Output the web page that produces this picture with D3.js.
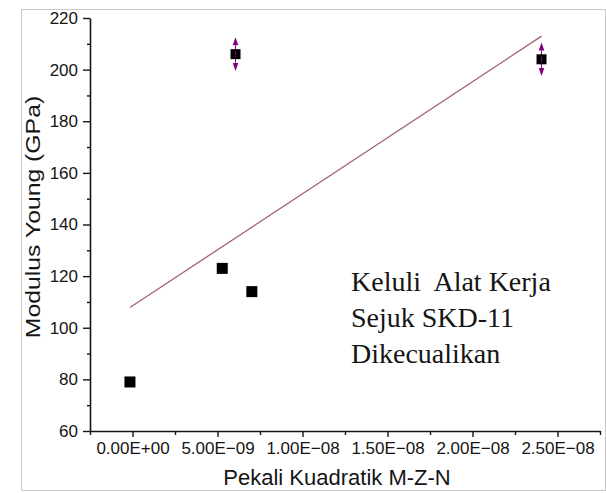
<!DOCTYPE html>
<html>
<head>
<meta charset="utf-8">
<script src="https://cdn.jsdelivr.net/npm/d3@7"></script>
<style>
  body { margin: 0; background: #fff; }
  svg { display: block; }
</style>
</head>
<body>
<svg id="chart" width="606" height="493"></svg>
<script>
// Measured samples: M-Z-N quadratic coefficient vs Young's modulus
const xValues = [-0.15e-9, 5.28e-9, 7.02e-9, 6.06e-9, 2.406e-8];
const yValues = [79, 123, 114, 206, 204];
const yErrors = [0, 0, 0, 6.5, 6.5];

const xTicks = [0, 5e-9, 1e-8, 1.5e-8, 2e-8, 2.5e-8];
const xTickLabels = ["0.00E+00", "5.00E\u221209", "1.00E\u221208", "1.50E\u221208", "2.00E\u221208", "2.50E\u221208"];
const xMinorTicks = [-2.5e-9, 2.5e-9, 7.5e-9, 1.25e-8, 1.75e-8, 2.25e-8, 2.75e-8];
const yTicks = [60, 80, 100, 120, 140, 160, 180, 200, 220];
const yMinorTicks = [70, 90, 110, 130, 150, 170, 190, 210];

const xTitle = "Pekali Kuadratik M-Z-N";
const yTitle = "Modulus Young (GPa)";
const noteLines = ["Keluli  Alat Kerja", "Sejuk SKD-11", "Dikecualikan"];

const sans = "Arial, 'Liberation Sans', sans-serif";
const serif = "'Times New Roman', 'Liberation Serif', serif";
const ink = "#151515";

const svg = d3.select("#chart");

// outer frame
svg.append("rect")
  .attr("x", 21.5).attr("y", 9.5).attr("width", 584).attr("height", 481)
  .attr("fill", "none").attr("stroke", "#c9c9c9").attr("stroke-width", 1);

const x = d3.scaleLinear().domain([-2.5e-9, 2.75e-8]).range([90, 600]);
const y = d3.scaleLinear().domain([60, 220]).range([431, 18]);

// least-squares line through the samples
const mx = d3.mean(xValues), my = d3.mean(yValues);
const sxy = d3.sum(xValues, (v, i) => (v - mx) * (yValues[i] - my));
const sxx = d3.sum(xValues, v => (v - mx) * (v - mx));
const slope = sxy / sxx, intercept = my - slope * mx;
const fitX = d3.extent(xValues);

svg.append("line")
  .attr("x1", x(fitX[0])).attr("y1", y(intercept + slope * fitX[0]))
  .attr("x2", x(fitX[1])).attr("y2", y(intercept + slope * fitX[1]))
  .attr("stroke", "#a0646e").attr("stroke-width", 1.3);

// axes
const yAxis = svg.append("g").attr("transform", "translate(90,0)")
  .call(d3.axisLeft(y).tickValues(yTicks).tickSizeInner(7).tickSizeOuter(0).tickPadding(5)
    .tickFormat(d3.format("d")));
svg.append("g").attr("transform", "translate(90,0)")
  .call(d3.axisLeft(y).tickValues(yMinorTicks).tickSize(3).tickFormat(""))
  .select(".domain").remove();

const xAxis = svg.append("g").attr("transform", "translate(0,431)")
  .call(d3.axisBottom(x).tickValues(xTicks).tickSizeInner(6).tickSizeOuter(0).tickPadding(5)
    .tickFormat((d, i) => xTickLabels[i]));
svg.append("g").attr("transform", "translate(0,431)")
  .call(d3.axisBottom(x).tickValues(xMinorTicks).tickSize(4).tickFormat(""))
  .select(".domain").remove();

svg.selectAll(".domain").attr("stroke", ink).attr("stroke-width", 1.6);
svg.selectAll(".tick line").attr("stroke", ink).attr("stroke-width", 1.4);
yAxis.selectAll(".tick text").attr("font-size", 17).attr("font-family", sans).attr("fill", ink);
xAxis.selectAll(".tick text").attr("font-size", 17).attr("font-family", sans).attr("fill", ink);

// axis titles
svg.append("text")
  .attr("transform", `translate(40,217) rotate(-90) scale(1.18,1)`)
  .attr("text-anchor", "middle").attr("font-size", 21)
  .attr("font-family", sans).attr("fill", ink)
  .text(yTitle);
svg.append("text")
  .attr("x", 337).attr("y", 485)
  .attr("text-anchor", "middle").attr("font-size", 22)
  .attr("font-family", sans).attr("fill", ink)
  .text(xTitle);

// error bars with arrow caps
const errG = svg.append("g");
const arrowLen = 8, arrowHalf = 2.8;
xValues.forEach((xv, i) => {
  if (!yErrors[i]) return;
  const cx = x(xv), top = y(yValues[i] + yErrors[i]), bot = y(yValues[i] - yErrors[i]);
  errG.append("line").attr("x1", cx).attr("x2", cx)
    .attr("y1", top + arrowLen).attr("y2", bot - arrowLen)
    .attr("stroke", "#800080").attr("stroke-width", 1);
  errG.append("path")
    .attr("d", `M${cx},${top}L${cx - arrowHalf},${top + arrowLen}L${cx + arrowHalf},${top + arrowLen}Z`)
    .attr("fill", "#800080");
  errG.append("path")
    .attr("d", `M${cx},${bot}L${cx - arrowHalf},${bot - arrowLen}L${cx + arrowHalf},${bot - arrowLen}Z`)
    .attr("fill", "#800080");
});

// sample markers (slightly smaller where an error bar sits on top)
const markerSize = i => (yErrors[i] ? 10 : 11);
svg.append("g").selectAll("rect").data(xValues).join("rect")
  .attr("x", (d, i) => x(d) - markerSize(i) / 2)
  .attr("y", (d, i) => y(yValues[i]) - markerSize(i) / 2)
  .attr("width", (d, i) => markerSize(i)).attr("height", (d, i) => markerSize(i))
  .attr("fill", "#000");
xValues.forEach((xv, i) => {
  if (!yErrors[i]) return;
  svg.append("line").attr("x1", x(xv)).attr("x2", x(xv))
    .attr("y1", y(yValues[i]) - 3).attr("y2", y(yValues[i]) + 3)
    .attr("stroke", "#800080").attr("stroke-width", 1);
});

// note
const note = svg.append("text")
  .attr("x", 351).attr("y", 291)
  .attr("font-family", serif).attr("fill", ink)
  .attr("font-size", 28).style("white-space", "pre");
note.selectAll("tspan").data(noteLines).join("tspan")
  .attr("x", 351).attr("dy", (d, i) => i ? 36 : 0)
  .text(d => d);
</script>
</body>
</html>
